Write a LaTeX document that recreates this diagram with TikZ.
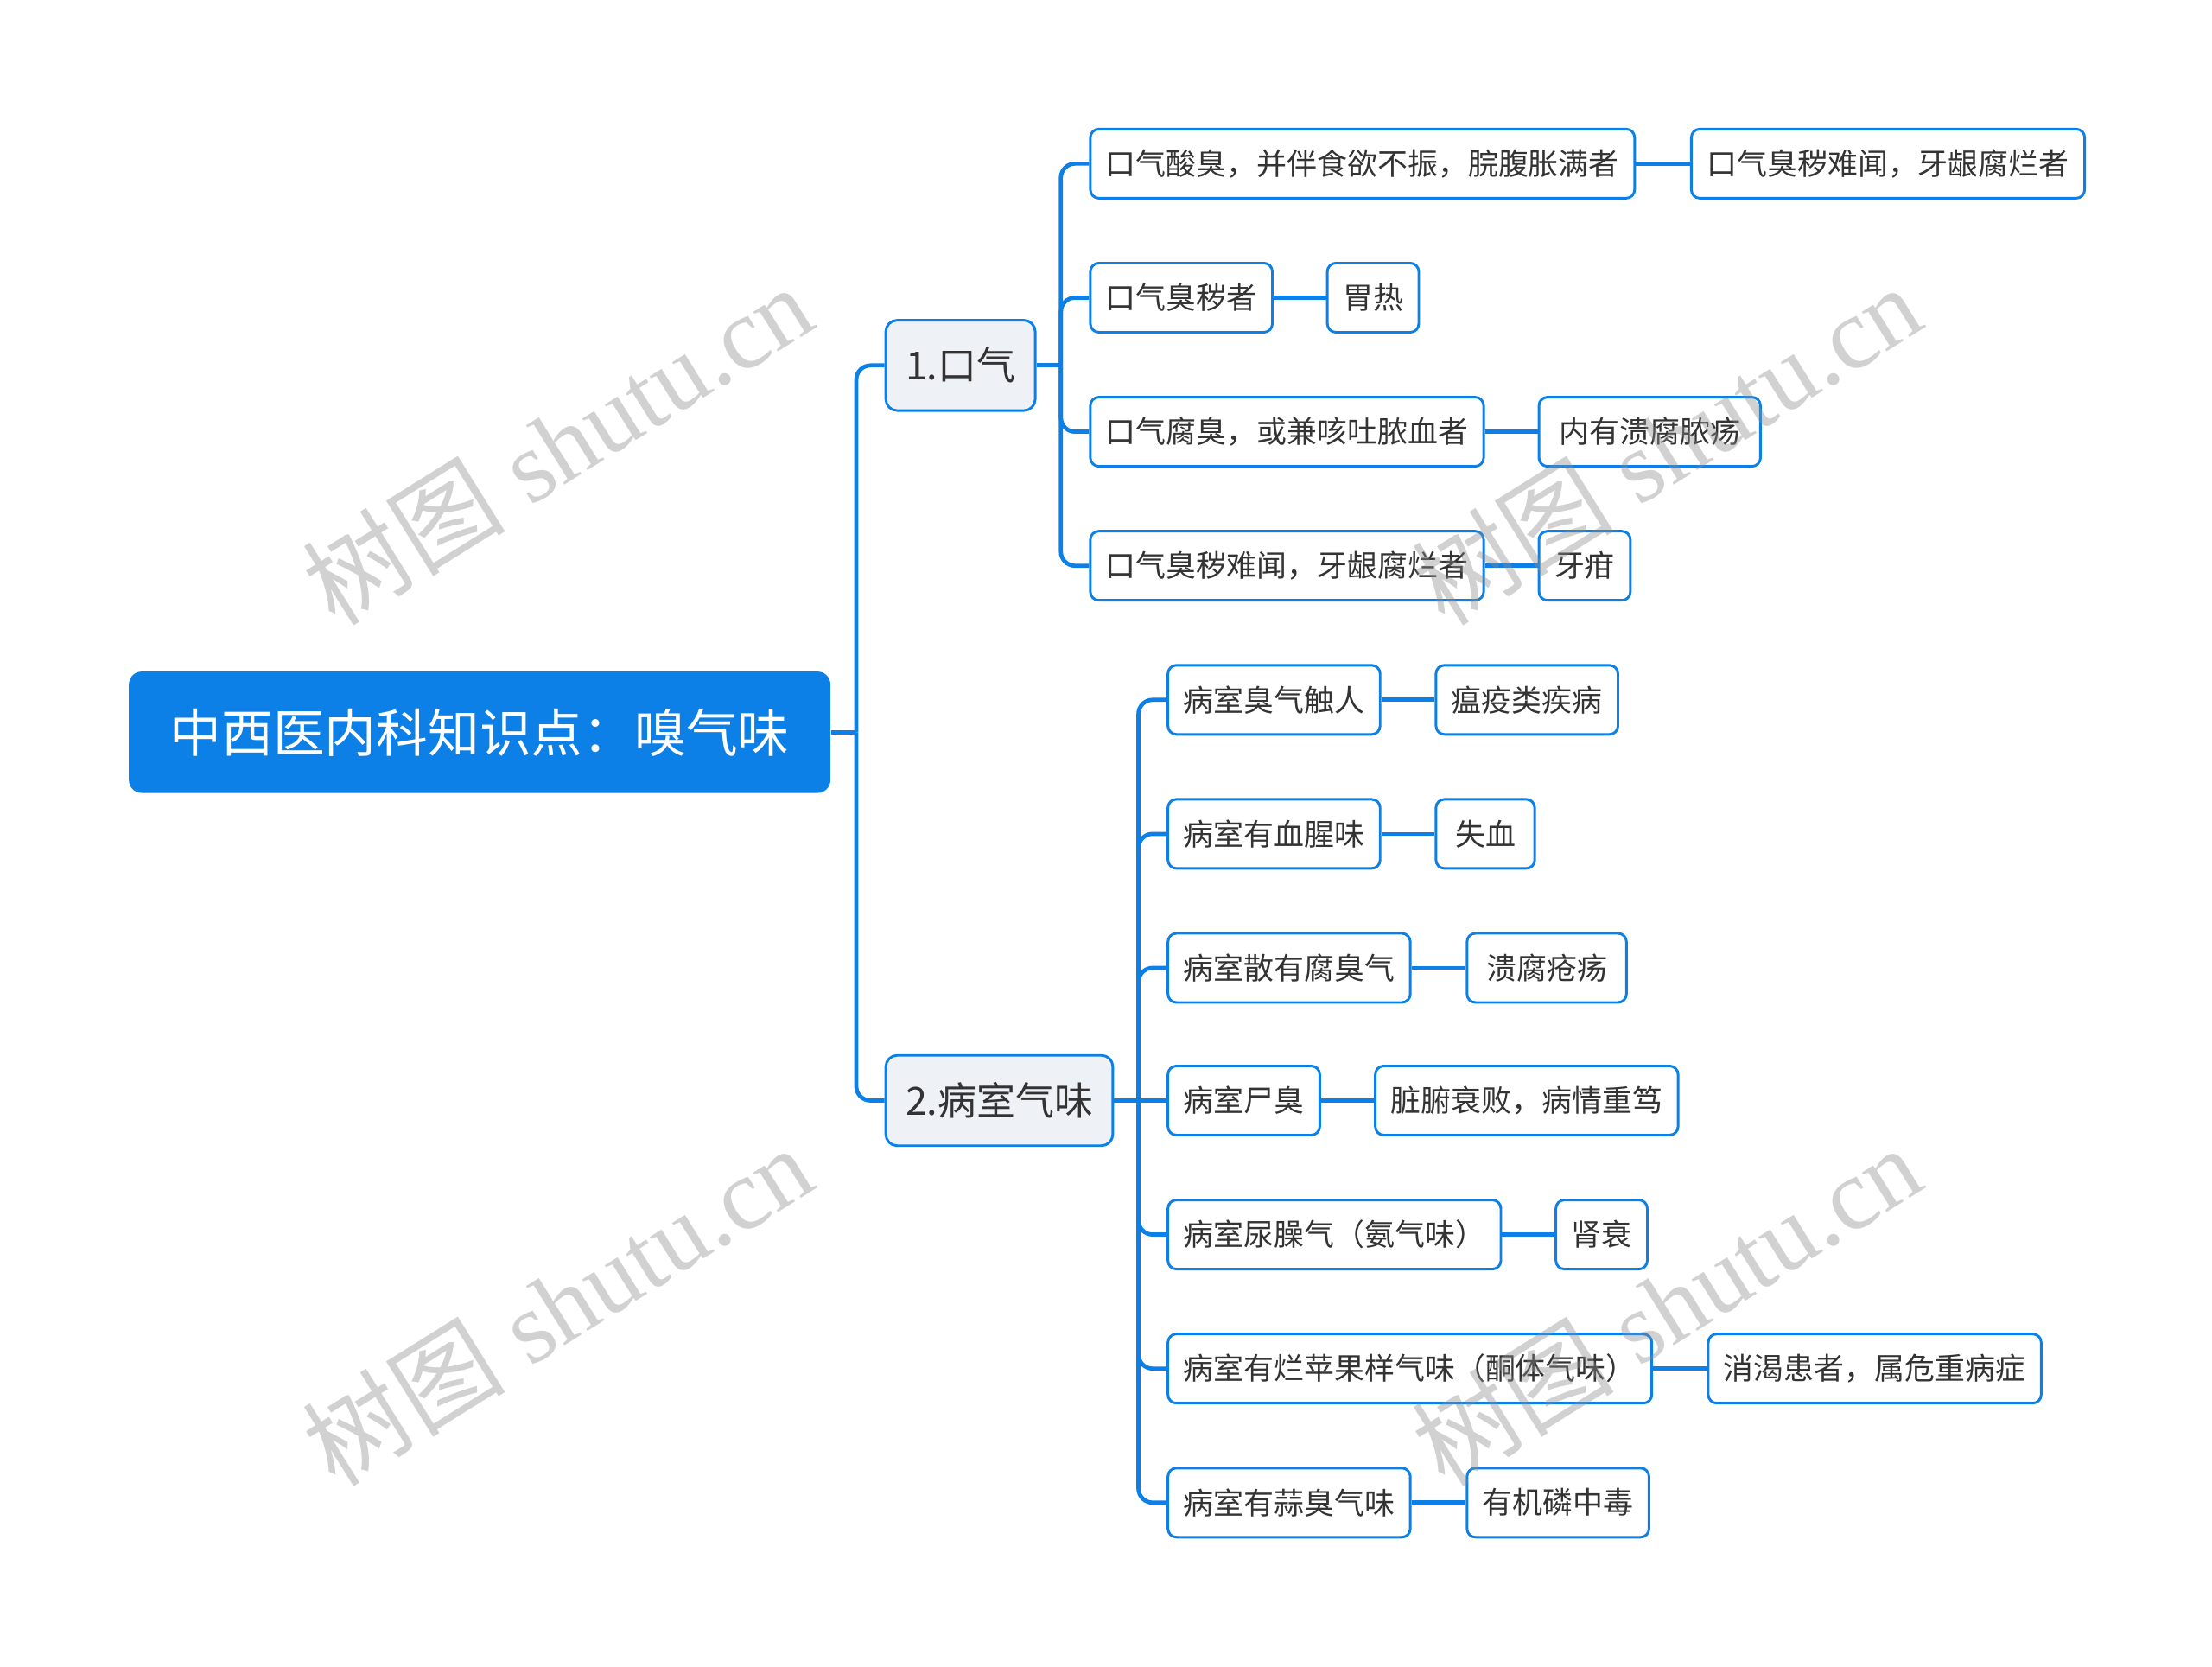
\documentclass[tikz,border=0pt]{standalone}
\usepackage{fontspec}
\newfontfamily\cjk{Noto Sans CJK SC}
\newfontfamily\wmserif{Liberation Serif}
\definecolor{mapblue}{HTML}{0C80E6}
\definecolor{topicfill}{HTML}{EEF2F7}
\definecolor{inkgray}{HTML}{333333}

\begin{document}
\begin{tikzpicture}[x=0.5pt,y=-0.5pt,
  root/.style={fill=mapblue, rounded corners=4.5pt, text=white, font=\cjk\fontsize{18.3}{22}\selectfont, minimum height=43pt, inner xsep=14.5pt, anchor=west},
  topic/.style={draw=mapblue, line width=0.9pt, fill=topicfill, rounded corners=4pt, text=inkgray, font=\cjk\fontsize{13.75}{16}\selectfont, minimum height=32pt, inner xsep=7pt, anchor=west},
  leaf/.style={draw=mapblue, line width=0.9pt, fill=white, rounded corners=3pt, text=inkgray, font=\cjk\fontsize{10.7}{13}\selectfont, minimum height=24.5pt, inner xsep=5.5pt, anchor=west},
  link/.style={draw=mapblue, line width=1.45pt, rounded corners=5pt},
  wmark/.style={text=black!45, text opacity=0.4, font=\wmserif\fontsize{36}{40}\selectfont, rotate=32}]
\useasboundingbox (0,0) rectangle (1568,1181);

\node[root] (root) at (91,519) {中西医内科知识点：嗅气味};

\node[topic] (k1) at (627,259) {1.口气};
\node[topic] (k2) at (627,780) {2.病室气味};

\node[leaf] (a1) at (772,116) {口气酸臭，并伴食欲不振，脘腹胀满者};
\node[leaf] (a1r) at (1198,116) {口气臭秽难闻，牙龈腐烂者};
\node[leaf] (a2) at (772,211) {口气臭秽者};
\node[leaf] (a2r) at (940,211) {胃热};
\node[leaf] (a3) at (772,306) {口气腐臭，或兼咳吐脓血者};
\node[leaf, minimum width=78.5pt] (a3r) at (1090,306) {内有溃腐脓疡};
\node[leaf] (a4) at (772,401) {口气臭秽难闻，牙龈腐烂者};
\node[leaf] (a4r) at (1090,401) {牙疳};

\node[leaf] (b1) at (827,496) {病室臭气触人};
\node[leaf] (b1r) at (1017,496) {瘟疫类疾病};
\node[leaf] (b2) at (827,591) {病室有血腥味};
\node[leaf, minimum width=35pt] (b2r) at (1017,591) {失血};
\node[leaf] (b3) at (827,686) {病室散有腐臭气};
\node[leaf, minimum width=56.5pt] (b3r) at (1039,686) {溃腐疮疡};
\node[leaf] (b4) at (827,780) {病室尸臭};
\node[leaf] (b4r) at (974,780) {脏腑衰败，病情重笃};
\node[leaf] (b5) at (827,875) {病室尿臊气（氨气味）};
\node[leaf] (b5r) at (1102,875) {肾衰};
\node[leaf] (b6) at (827,970) {病室有烂苹果样气味（酮体气味）};
\node[leaf] (b6r) at (1210,970) {消渴患者，属危重病症};
\node[leaf] (b7) at (827,1065) {病室有蒜臭气味};
\node[leaf] (b7r) at (1039,1065) {有机磷中毒};

\coordinate (j0) at (607,519);
\coordinate (j1) at (752,259);
\coordinate (j2) at (807,780);

\draw[link] (root.east) -- (j0);
\draw[link] (j0) |- (k1.west);
\draw[link] (j0) |- (k2.west);

\draw[link] (k1.east) -- (j1);
\draw[link] (j1) |- (a1.west);
\draw[link] (j1) |- (a2.west);
\draw[link] (j1) |- (a3.west);
\draw[link] (j1) |- (a4.west);

\draw[link] (k2.east) -- (j2);
\draw[link] (j2) |- (b1.west);
\draw[link] (j2) |- (b2.west);
\draw[link] (j2) |- (b3.west);
\draw[link] (j2) -- (b4.west);
\draw[link] (j2) |- (b5.west);
\draw[link] (j2) |- (b6.west);
\draw[link] (j2) |- (b7.west);

\draw[link] (a1.east) -- (a1r.west);
\draw[link] (a2.east) -- (a2r.west);
\draw[link] (a3.east) -- (a3r.west);
\draw[link] (a4.east) -- (a4r.west);
\draw[link] (b1.east) -- (b1r.west);
\draw[link] (b2.east) -- (b2r.west);
\draw[link] (b3.east) -- (b3r.west);
\draw[link] (b4.east) -- (b4r.west);
\draw[link] (b5.east) -- (b5r.west);
\draw[link] (b6.east) -- (b6r.west);
\draw[link] (b7.east) -- (b7r.west);

\node[wmark] (wm1) at (395,315) {{\cjk 树图} shutu.cn};
\node[wmark] (wm2) at (1181,315) {{\cjk 树图} shutu.cn};
\node[wmark] (wm3) at (395,925) {{\cjk 树图} shutu.cn};
\node[wmark] (wm4) at (1181,925) {{\cjk 树图} shutu.cn};
\end{tikzpicture}
\end{document}
